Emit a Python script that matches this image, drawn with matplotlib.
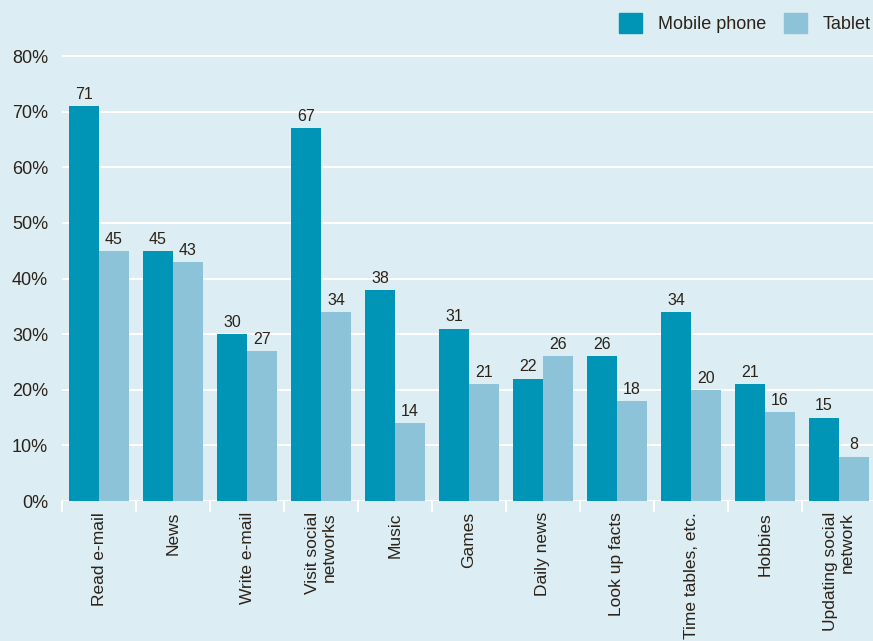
import numpy as np
import matplotlib
matplotlib.use("Agg")
import matplotlib.pyplot as plt
from matplotlib.patches import Patch

plt.rcParams["font.family"] = ["Liberation Sans", "DejaVu Sans"]

categories = [
    "Read e-mail", "News", "Write e-mail", "Visit social\nnetworks", "Music",
    "Games", "Daily news", "Look up facts", "Time tables, etc.", "Hobbies",
    "Updating social\nnetwork",
]
mobile = [71, 45, 30, 67, 38, 31, 22, 26, 34, 21, 15]
tablet = [45, 43, 27, 34, 14, 21, 26, 18, 20, 16, 8]
yticks = [0, 10, 20, 30, 40, 50, 60, 70, 80]

bg = "#ddedf4"
c_mobile = "#0095b6"
c_tablet = "#8cc3d9"
txt = "#2b2218"

fig = plt.figure(figsize=(8.73, 6.41), dpi=100, facecolor=bg)
ax = fig.add_axes([62 / 873, 140 / 641, 814 / 873, 456 / 641], facecolor=bg)

x = np.arange(len(categories))
w = 30 / 74
ax.bar(x - w / 2, mobile, w, color=c_mobile, zorder=3)
ax.bar(x + w / 2, tablet, w, color=c_tablet, zorder=3)

for xi, m, t in zip(x, mobile, tablet):
    ax.annotate(str(m), (xi - w / 2, m), xytext=(0, 3), textcoords="offset points",
                ha="center", va="bottom", fontsize=11.5, color=txt)
    ax.annotate(str(t), (xi + w / 2, t), xytext=(0, 3), textcoords="offset points",
                ha="center", va="bottom", fontsize=11.5, color=txt)

ax.set_xlim(-0.5, len(categories) - 0.5)
ax.set_ylim(0, 82)
ax.set_yticks(yticks)
ax.set_yticklabels([f"{v}%" for v in yticks], fontsize=13, color=txt)
ax.tick_params(axis="y", length=0, pad=10)
ax.grid(axis="y", color="white", linewidth=1.5, zorder=0)

ax.set_xticks(x)
ax.set_xticks(np.arange(len(categories) + 1) - 0.5, minor=True)
ax.set_xticklabels(categories, rotation=90, fontsize=12.5, color=txt,
                   va="top", ha="center", multialignment="right")
ax.tick_params(axis="x", which="major", length=0, pad=8)
ax.tick_params(axis="x", which="minor", length=8, width=1.5, color="white")

for s in ax.spines.values():
    s.set_visible(False)

handles = [Patch(color=c_mobile, label="Mobile phone"), Patch(color=c_tablet, label="Tablet")]
fig.legend(handles=handles, loc="upper right", bbox_to_anchor=(1.016, 1.005), ncol=2,
           frameon=False, fontsize=13, handlelength=1.3, handleheight=1.3,
           columnspacing=1.0, handletextpad=0.85, labelcolor=txt)

fig.savefig("out.png", dpi=100, facecolor=bg)
